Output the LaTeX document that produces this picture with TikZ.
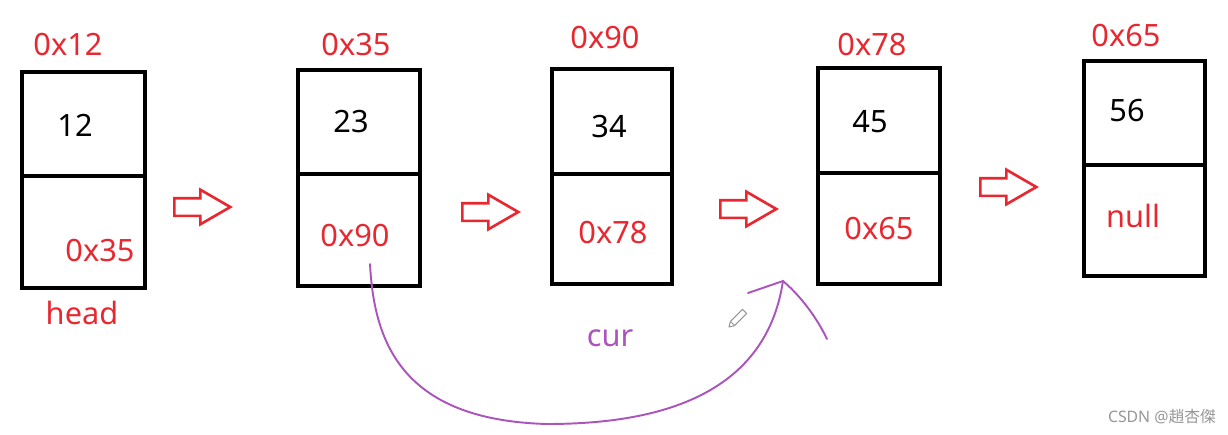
\documentclass[tikz,border=0pt]{standalone}
\usepackage{fontspec}
\setmainfont{Noto Sans}
\newfontfamily\cjkfont{Noto Sans CJK SC}
\usepackage{tikz}
\usetikzlibrary{shapes.arrows}
\definecolor{addrred}{RGB}{232,40,48}
\definecolor{curpurple}{RGB}{170,85,188}
\definecolor{markgray}{RGB}{150,150,150}

\begin{document}
\begin{tikzpicture}[x=0.02cm, y=-0.02cm, font=\fontsize{17.5}{20}\selectfont,
  cellbox/.style={line width=1.9pt, black},
  addr/.style={text=addrred, inner sep=1pt},
  val/.style={text=black, inner sep=1pt},
  blockarrow/.style={single arrow, draw=addrred, fill=white, line width=1.5pt,
    minimum height=1.12cm, inner xsep=0pt, inner ysep=0.15cm,
    single arrow head extend=0.17cm, single arrow tip angle=60, anchor=tail}]

\useasboundingbox (0,0) rectangle (1228,434);

% 1. Node boxes (value cell on top, next cell below)
\draw[cellbox] (22,72) rectangle (145,288);
\draw[cellbox] (22,176) -- (147,176);
\draw[cellbox] (298,70) rectangle (420,286);
\draw[cellbox] (298,174) -- (421,174);
\draw[cellbox] (552,69) rectangle (672,284);
\draw[cellbox] (552,174) -- (673,174);
\draw[cellbox] (818,68) rectangle (940,284);
\draw[cellbox] (818,173) -- (941,173);
\draw[cellbox] (1084,61) rectangle (1205,276);
\draw[cellbox] (1084,165) -- (1206,165);

% 2. Addresses above the boxes
\node[addr] (addr1) at (68,45) {0x12};
\node[addr] (addr2) at (356,45) {0x35};
\node[addr] (addr3) at (605,38) {0x90};
\node[addr] (addr4) at (872,45) {0x78};
\node[addr] (addr5) at (1126,36) {0x65};

% 3. Stored values
\node[val] (val1) at (75,125) {12};
\node[val] (val2) at (351,122) {23};
\node[val] (val3) at (609,127) {34};
\node[val] (val4) at (870,122) {45};
\node[val] (val5) at (1127,111) {56};

% 4. Next pointers
\node[addr] (nxt1) at (100,250) {0x35};
\node[addr] (nxt2) at (355,235) {0x90};
\node[addr] (nxt3) at (613,232) {0x78};
\node[addr] (nxt4) at (879,228) {0x65};
\node[addr] (nxt5) at (1133,216) {null};
\node[addr] (head) at (82,313) {head};

% 5. Hollow arrows between the boxes
\node[blockarrow] (arr1) at (173,207) {};
\node[blockarrow] (arr2) at (461,212) {};
\node[blockarrow] (arr3) at (719,209) {};
\node[blockarrow] (arr4) at (979,187) {};

% 6. Hand-drawn cur jump
\coordinate (curstart) at (370,264);
\coordinate (curlow) at (547,424);
\coordinate (curend) at (783,281);
\coordinate (tipleft) at (748,293);
\coordinate (tipright) at (827,339);
\draw[curpurple, line width=1.1pt, line cap=round, line join=round]
  (curstart) .. controls (374,340) and (400,420) .. (curlow)
  .. controls (650,424) and (765,400) .. (curend);
\draw[curpurple, line width=1.1pt, line cap=round, line join=round]
  (tipleft) -- (curend) .. controls (796,292) and (814,312) .. (tipright);
\node[text=curpurple, inner sep=1pt] (cur) at (610,338) {cur};

% 7. Pencil cursor
\draw[markgray, fill=white, line width=0.6pt, line join=round]
  (729,327) -- (734.6,325.6) -- (746.7,313.5) -- (742.5,309.3) -- (730.4,321.4) -- cycle;
\draw[markgray, line width=0.6pt] (734.6,325.6) -- (730.4,321.4);

% 8. Watermark
\node[text=markgray, font=\fontsize{9}{11}\selectfont, inner sep=0pt] (mark) at (1162,417) {CSDN @{\cjkfont 趙杏傑}};

\end{tikzpicture}
\end{document}
